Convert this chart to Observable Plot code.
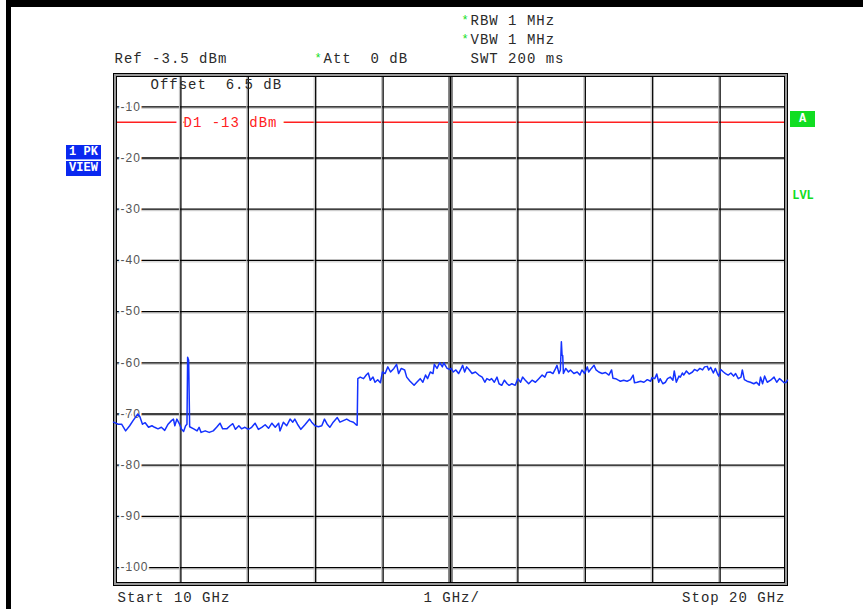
<!DOCTYPE html>
<html><head><meta charset="utf-8">
<script src="https://cdn.jsdelivr.net/npm/d3@7"></script>
<script src="https://cdn.jsdelivr.net/npm/@observablehq/plot@0.6"></script>
<style>
html,body{margin:0;padding:0;background:#fff;}
#wrap{position:relative;width:863px;height:609px;overflow:hidden;background:#fff;}
#chart svg text{letter-spacing:1px;}
.bar{position:absolute;background:#000;}
.badge{position:absolute;font-family:"Liberation Mono",monospace;font-weight:bold;color:#fff;font-size:12px;text-align:center;}
</style></head>
<body><div id="wrap"><div id="chart"></div>
<div class="bar" style="left:6px;top:0;width:857px;height:7px"></div>
<div class="bar" style="left:6px;top:0;width:5px;height:609px"></div>
<div class="badge" style="left:66px;top:145px;width:35px;height:14px;line-height:14px;background:#0a28f0;border-bottom:1px solid #9fb0ff">1 PK</div>
<div class="badge" style="left:66px;top:161px;width:35px;height:15px;line-height:15px;background:#0a28f0">VIEW</div>
<div class="badge" style="left:790px;top:111px;width:25px;height:16px;line-height:16px;background:#11dd22;font-size:12px">A</div>
<div class="badge" style="left:788px;top:190px;width:30px;height:13px;line-height:13px;color:#11dd22;background:none">LVL</div>
</div>
<script>
// ---- data ----
const freqGHz = [
10.00,10.07,10.12,10.18,10.24,10.29,10.36,10.39,10.43,10.47,10.52,10.57,10.61,10.66,10.71,10.76,10.81,10.86,10.89,10.91,
10.94,10.98,11.01,11.04,11.07,11.09,11.10,11.115,11.13,11.19,11.24,11.27,11.30,11.36,11.42,11.48,11.53,11.58,11.62,11.68,
11.73,11.77,11.81,11.86,11.90,11.95,12.00,12.05,12.10,12.15,12.20,12.25,12.30,12.35,12.40,12.45,
12.47,12.52,12.57,12.62,12.66,12.69,12.73,12.78,12.84,12.91,12.94,12.99,13.04,13.09,13.13,13.17,13.21,13.26,13.32,13.36,
13.41,13.46,13.51,13.56,13.60,13.615,13.625,13.66,13.71,13.75,13.78,13.81,13.85,13.88,13.92,13.96,13.99,14.03,14.07,14.11,
14.16,14.20,14.23,14.27,14.32,14.35,14.40,14.46,14.50,14.55,14.59,14.63,14.66,14.70,14.74,14.76,14.80,14.84,14.88,14.90,
14.95,14.99,
15.01,15.04,15.08,15.12,15.16,15.18,15.21,15.24,15.28,15.32,15.37,15.42,15.47,15.51,15.54,15.58,15.61,15.65,15.69,15.72,
15.76,15.80,15.84,15.87,15.91,15.96,16.00,16.04,16.07,16.11,16.16,16.21,16.26,16.31,16.36,16.40,16.43,16.48,16.52,16.56,
16.58,16.61,16.63,16.645,16.655,16.665,16.675,16.71,16.75,16.78,16.83,16.88,16.92,16.95,16.99,17.03,17.05,17.09,17.13,17.16,
17.20,17.25,17.30,17.35,17.39,17.41,17.45,17.49,
17.52,17.57,17.62,17.67,17.71,17.73,17.77,17.82,17.87,17.92,17.97,17.99,18.03,18.06,18.09,18.11,18.15,18.19,18.22,18.26,
18.30,18.32,18.35,18.39,18.41,18.44,18.46,18.50,18.54,18.59,18.62,18.66,18.70,18.74,18.77,18.81,18.83,18.86,18.90,18.93,
18.96,18.98,19.01,19.05,19.08,19.12,19.16,19.20,19.23,19.27,19.31,19.33,19.36,19.40,19.45,19.50,19.54,19.58,19.60,19.63,
19.66,19.70,19.75,19.80,19.84,19.88,19.91,19.95,19.98,20.00
];
const levelDbm = [
-71.6,-72.0,-72.0,-73.3,-72.3,-71.3,-70.0,-70.5,-72.0,-71.7,-72.6,-72.3,-72.6,-72.9,-72.6,-73.2,-72.0,-71.3,-71.0,-72.3,
-71.0,-72.0,-73.0,-73.4,-72.3,-72.0,-58.9,-59.5,-72.5,-72.9,-73.3,-72.6,-73.6,-73.3,-73.6,-73.3,-72.6,-71.8,-72.9,-72.9,
-72.3,-71.9,-73.0,-72.3,-72.9,-72.6,-73.0,-72.6,-71.8,-73.0,-72.6,-72.1,-72.8,-71.8,-72.6,-71.8,
-73.3,-71.6,-72.3,-71.0,-71.6,-71.0,-72.0,-73.0,-72.1,-71.0,-71.6,-72.3,-72.5,-72.3,-71.0,-72.0,-72.6,-71.6,-70.7,-71.6,
-71.3,-71.0,-71.4,-71.6,-72.1,-72.2,-63.1,-62.8,-63.1,-62.4,-62.0,-63.4,-62.8,-63.8,-63.3,-63.9,-61.8,-62.1,-60.8,-61.8,
-61.1,-60.3,-62.1,-61.1,-61.4,-62.8,-63.6,-64.4,-63.8,-63.1,-63.8,-62.4,-63.1,-61.8,-62.1,-60.3,-61.1,-60.0,-60.8,-60.0,
-61.1,-61.3,
-61.1,-61.8,-61.4,-62.1,-61.1,-60.5,-61.8,-60.8,-61.4,-62.1,-61.8,-62.4,-62.8,-63.8,-63.1,-63.4,-63.1,-63.8,-62.8,-64.1,
-64.4,-63.4,-64.1,-64.4,-64.1,-64.4,-63.1,-63.8,-62.8,-63.4,-64.1,-63.4,-63.8,-63.1,-62.4,-62.8,-61.9,-61.8,-62.1,-61.1,
-60.5,-62.1,-61.4,-55.9,-58.5,-58.6,-62.1,-61.1,-61.8,-61.4,-62.1,-61.8,-62.4,-61.4,-62.1,-60.8,-61.8,-61.1,-60.5,-61.4,
-61.8,-62.1,-61.9,-62.4,-61.4,-63.0,-63.1,-63.4,
-63.6,-63.4,-63.6,-63.3,-62.4,-63.9,-63.8,-63.6,-63.8,-63.3,-63.6,-62.9,-63.1,-62.2,-63.8,-63.1,-64.1,-63.8,-63.1,-62.8,
-63.4,-61.6,-63.8,-62.6,-62.8,-62.0,-62.4,-61.6,-62.2,-61.8,-61.3,-61.6,-61.1,-61.4,-60.8,-60.7,-61.4,-60.9,-62.0,-61.1,
-62.1,-62.6,-61.3,-61.8,-62.1,-62.4,-62.0,-62.6,-62.1,-63.1,-62.8,-61.4,-63.3,-63.6,-63.8,-64.1,-63.8,-64.4,-62.8,-64.1,
-62.6,-63.8,-63.4,-62.8,-63.8,-63.1,-63.4,-63.9,-63.8,-63.4
];
const xDomainGHz = [10, 20];
const xGridGHz = [11, 12, 13, 14, 16, 17, 18, 19];
const xCenterGHz = [15];
const yDomainDbm = [-103.5, -3.5];
const yGridDbm = [-10, -20, -30, -40, -50, -60, -70, -80, -90, -100];
const displayLineDbm = [-13];
const displayLineLabel = "D1 -13 dBm";
const headerRef = "Ref -3.5 dBm";
const headerAtt = "Att  0 dB";
const headerSwt = "SWT 200 ms";
const headerRbw = "RBW 1 MHz";
const headerVbw = "VBW 1 MHz";
const offsetLabel = "Offset  6.5 dB";
const footerStart = "Start 10 GHz";
const footerSpan = "1 GHz/";
const footerStop = "Stop 20 GHz";

const trace = freqGHz.map((f, i) => ({f, v: levelDbm[i]}));

const green = "#11dd22";
const txt = "#2a2a2a";
const mono = "Liberation Mono, DejaVu Sans Mono, monospace";
const T = (s, o) => Plot.text([s], {text: d => d, textAnchor: "start", lineAnchor: "middle", fill: txt, ...o});

const chart = Plot.plot({
  width: 863, height: 609,
  marginLeft: 113, marginRight: 76, marginTop: 73, marginBottom: 24,
  x: {domain: xDomainGHz, axis: null},
  y: {domain: yDomainDbm, axis: null},
  style: {fontFamily: mono, fontSize: "14px", background: "transparent", overflow: "visible"},
  marks: [
    Plot.ruleY(displayLineDbm, {stroke: "#ff2020", strokeWidth: 1.5}),
    Plot.text(displayLineDbm, {y: d => d, frameAnchor: "left", dx: 70, text: () => displayLineLabel, textAnchor: "start",
      fill: "white", stroke: "white", strokeWidth: 16, fontSize: 14}),
    Plot.ruleY(yGridDbm, {stroke: "#c4c4c4", strokeWidth: 1, dy: 1.5}),
    Plot.ruleY(yGridDbm, {stroke: "#000", strokeWidth: 1.3}),
    Plot.text(yGridDbm, {y: d => d, frameAnchor: "left", dx: 7, text: d => String(d), textAnchor: "start",
      fill: "#555", stroke: "white", strokeWidth: 4, fontFamily: "Liberation Sans, Arial, sans-serif", fontSize: 12}),
    Plot.text(displayLineDbm, {y: d => d, frameAnchor: "left", dx: 70, text: () => displayLineLabel, textAnchor: "start",
      fill: "#ff2020", fontSize: 14}),
    Plot.ruleX(xGridGHz, {stroke: "#bdbdbd", strokeWidth: 1, dx: -1.5}),
    Plot.ruleX(xGridGHz, {stroke: "#000", strokeWidth: 1.3}),
    Plot.ruleX(xCenterGHz, {stroke: "#888", strokeWidth: 5}),
    Plot.ruleX(xCenterGHz, {stroke: "#000", strokeWidth: 1.3}),
    Plot.frame({stroke: "#999", strokeWidth: 2.5, inset: 1.5}),
    Plot.frame({stroke: "#000", strokeWidth: 1}),
    Plot.frame({stroke: "#000", strokeWidth: 1, inset: 3}),
    Plot.line(trace, {x: "f", y: "v", stroke: "#1432ff", strokeWidth: 1.5}),
    // header annotations
    T(headerRef, {frameAnchor: "top-left", dx: 1, dy: -15}),
    T("*", {frameAnchor: "top-left", dx: 201, dy: -15, fill: green, fontSize: 12}),
    T(headerAtt, {frameAnchor: "top-left", dx: 210, dy: -15}),
    T(headerSwt, {frameAnchor: "top-left", dx: 357, dy: -15}),
    T("*", {frameAnchor: "top-left", dx: 348, dy: -53, fill: green, fontSize: 12}),
    T(headerRbw, {frameAnchor: "top-left", dx: 357, dy: -53}),
    T("*", {frameAnchor: "top-left", dx: 348, dy: -34, fill: green, fontSize: 12}),
    T(headerVbw, {frameAnchor: "top-left", dx: 357, dy: -34}),
    T(offsetLabel, {frameAnchor: "top-left", dx: 37, dy: 11}),
    // footer annotations
    T(footerStart, {frameAnchor: "bottom-left", dx: 4, dy: 12}),
    T(footerSpan, {frameAnchor: "bottom-left", dx: 310, dy: 12}),
    T(footerStop, {frameAnchor: "bottom-right", dx: -2, dy: 12, textAnchor: "end"})
  ]
});
document.getElementById("chart").appendChild(chart);
</script>
</body></html>
